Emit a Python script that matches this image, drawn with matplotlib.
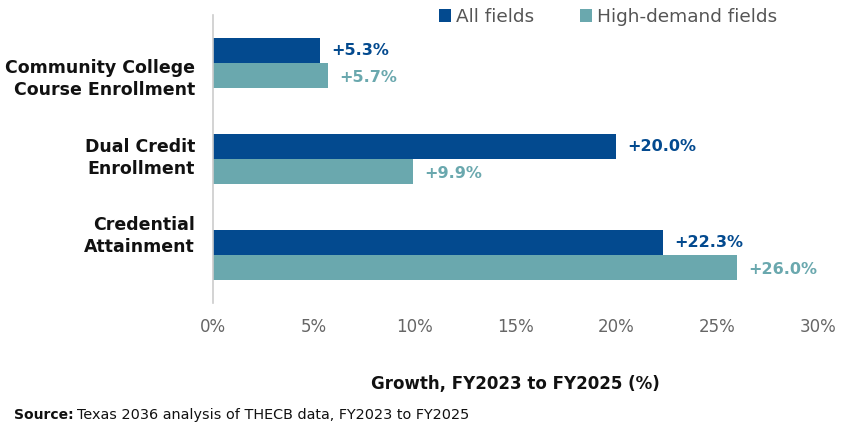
import matplotlib
matplotlib.use("Agg")
import matplotlib.pyplot as plt
import numpy as np

categories = ["Community College\nCourse Enrollment", "Dual Credit\nEnrollment", "Credential\nAttainment"]
all_fields = [5.3, 20.0, 22.3]
high_demand = [5.7, 9.9, 26.0]
series_names = ["All fields", "High-demand fields"]
xticks = [0, 5, 10, 15, 20, 25, 30]

c_all = "#034a8f"
c_hd = "#6aa8ae"

plt.rcParams['font.family'] = ['DejaVu Sans']

fig = plt.figure(figsize=(8.47, 4.29), dpi=100)
ax = fig.add_axes([213/847, 1-303/429, (818-213)/847, (303-15)/429])

y = np.arange(len(categories))
h = 0.265
ax.barh(y - h/2, all_fields, height=h, color=c_all, label=series_names[0])
ax.barh(y + h/2, high_demand, height=h, color=c_hd, label=series_names[1])

for yi, v in zip(y, all_fields):
    ax.annotate(f"+{v:.1f}%", (v, yi - h/2), xytext=(8, 0), textcoords="offset points",
                va="center", ha="left", color=c_all, fontsize=11.5, fontweight="bold")
for yi, v in zip(y, high_demand):
    ax.annotate(f"+{v:.1f}%", (v, yi + h/2), xytext=(8, -1), textcoords="offset points",
                va="center", ha="left", color=c_hd, fontsize=11.5, fontweight="bold")

ax.set_ylim(2.5, -0.5)
ax.set_xlim(0, 30)
# label positions slightly offset from bar-pair centres, as in the reference
label_shift = [0.125, -0.05, -0.24]
ax.set_yticks(y + np.array(label_shift))
ax.set_yticklabels(categories, fontsize=12.5, fontweight="bold", color="#111111", linespacing=1.3)
ax.set_xticks(xticks)
ax.set_xticklabels([f"{t}%" for t in xticks], fontsize=12, color="#666666")
ax.tick_params(axis="both", length=0)
ax.tick_params(axis="x", pad=11)
ax.tick_params(axis="y", pad=13)
for s in ["top", "right", "bottom"]:
    ax.spines[s].set_visible(False)
ax.spines["left"].set_color("#cccccc")
ax.spines["left"].set_linewidth(1.2)

ax.set_xlabel("Growth, FY2023 to FY2025 (%)", fontsize=12, fontweight="bold", color="#111111", labelpad=28)

leg = fig.legend(loc="center", bbox_to_anchor=(608/847, 1-17/429), ncol=2, frameon=False,
                 fontsize=13.3, handlelength=0.65, handleheight=0.65, handletextpad=0.25,
                 columnspacing=2.5, labelcolor="#555555")

t1 = fig.text(14/847, 1-415/429, "Source:", fontsize=10, fontweight="bold",
              color="#111111", va="center", ha="left")
fig.canvas.draw()
bb = t1.get_window_extent()
fig.text((bb.x1 + 3)/847, 1-415/429, "Texas 2036 analysis of THECB data, FY2023 to FY2025",
         fontsize=10.4, color="#111111", va="center", ha="left")

fig.savefig("out.png", dpi=100)
